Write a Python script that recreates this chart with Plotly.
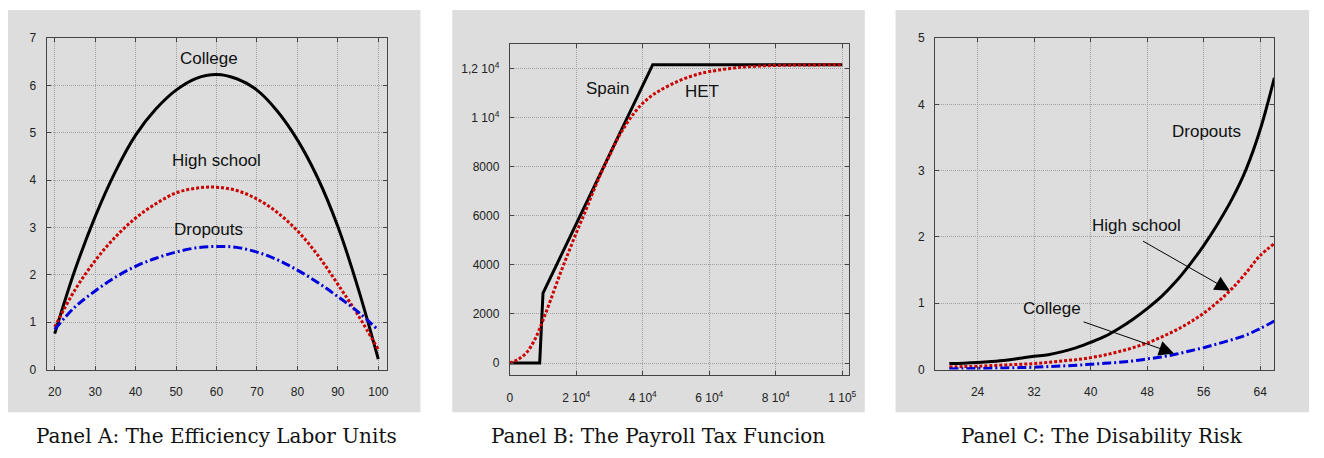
import plotly.graph_objects as go

# ---------------- Panel A: efficiency labor units by age ----------------
age_a = [20, 25, 30, 35, 40, 45, 50, 55, 60, 65, 70, 75, 80, 85, 90, 95, 100]
eff_college = [0.76, 2.1, 3.23, 4.18, 4.95, 5.5, 5.9, 6.15, 6.23, 6.14, 5.9, 5.46, 4.85, 4.05, 3.02, 1.72, 0.22]
eff_highschool = [0.9, 1.68, 2.3, 2.8, 3.2, 3.5, 3.73, 3.83, 3.85, 3.78, 3.6, 3.32, 2.93, 2.42, 1.8, 1.15, 0.42]
eff_dropouts = [0.85, 1.32, 1.66, 1.95, 2.18, 2.35, 2.48, 2.57, 2.6, 2.58, 2.48, 2.32, 2.1, 1.84, 1.54, 1.22, 0.83]

# ---------------- Panel B: payroll tax function ----------------
income_spain = [0, 9000, 10000, 43000, 100000]
tax_spain = [0, 0, 2850, 12150, 12150]
income_het = [0, 2500, 5000, 7500, 10000, 12500, 15000, 17500, 20000, 22500, 25000, 27500, 30000,
              32500, 35000, 37500, 40000, 42500, 45000, 50000, 55000, 60000, 70000, 80000, 90000, 100000]
tax_het = [0, 150, 420, 950, 1750, 2650, 3580, 4450, 5300, 6100, 6950, 7750, 8450,
           9150, 9720, 10200, 10580, 10870, 11090, 11440, 11700, 11870, 12050, 12120, 12140, 12150]

# ---------------- Panel C: disability risk by age ----------------
age_c = [20, 22, 24, 26, 28, 30, 32, 34, 36, 38, 40, 42, 44, 46, 48, 50, 52, 54, 56, 58, 60, 62, 64, 66]
dis_dropouts = [0.09, 0.095, 0.105, 0.12, 0.14, 0.17, 0.2, 0.225, 0.27, 0.33, 0.41, 0.5, 0.62, 0.76, 0.92,
                1.1, 1.32, 1.58, 1.87, 2.2, 2.57, 3.02, 3.62, 4.4]
dis_highschool = [0.04, 0.045, 0.05, 0.06, 0.07, 0.08, 0.09, 0.11, 0.13, 0.15, 0.18, 0.22, 0.27, 0.33,
                  0.4, 0.49, 0.59, 0.71, 0.85, 1.02, 1.22, 1.46, 1.72, 1.9]
dis_college = [0.01, 0.012, 0.015, 0.02, 0.025, 0.03, 0.035, 0.045, 0.055, 0.065, 0.08, 0.095, 0.11,
               0.13, 0.16, 0.19, 0.23, 0.28, 0.33, 0.39, 0.45, 0.52, 0.62, 0.73]

# tick labels
a_xticks = [20, 30, 40, 50, 60, 70, 80, 90, 100]
a_yticks = [0, 1, 2, 3, 4, 5, 6, 7]
b_xticks = [0, 20000, 40000, 60000, 80000, 100000]
b_xlabels = ["0", "2 10<sup>4</sup>", "4 10<sup>4</sup>", "6 10<sup>4</sup>", "8 10<sup>4</sup>", "1 10<sup>5</sup>"]
b_yticks = [0, 2000, 4000, 6000, 8000, 10000, 12000]
b_ylabels = ["0", "2000", "4000", "6000", "8000", "1 10<sup>4</sup>", "1,2 10<sup>4</sup>"]
c_xticks = [24, 32, 40, 48, 56, 64]
c_yticks = [0, 1, 2, 3, 4, 5]

captions = ["Panel A: The Efficiency Labor Units",
            "Panel B: The Payroll Tax Funcion",
            "Panel C: The Disability Risk"]

W, H = 1324, 458
BLACK = "#000000"
RED = "#cc0000"
BLUE = "#0000dd"
SANS = "Liberation Sans, Arial, sans-serif"

solid = dict(color=BLACK, width=3)
dotted = dict(color=RED, width=3, dash="3px,2px")
dashdot = dict(color=BLUE, width=3, dash="9px,3px,2px,3px")


def fx(px):
    return px / W


def fy(py):
    return 1 - py / H


fig = go.Figure()
fig.add_trace(go.Scatter(x=age_a, y=eff_college, mode="lines", line=dict(solid, shape="spline"), xaxis="x", yaxis="y"))
fig.add_trace(go.Scatter(x=age_a, y=eff_highschool, mode="lines", line=dict(dotted, shape="spline"), xaxis="x", yaxis="y"))
fig.add_trace(go.Scatter(x=age_a, y=eff_dropouts, mode="lines", line=dict(dashdot, shape="spline"), xaxis="x", yaxis="y"))

fig.add_trace(go.Scatter(x=income_spain, y=tax_spain, mode="lines", line=solid, xaxis="x2", yaxis="y2"))
fig.add_trace(go.Scatter(x=income_het, y=tax_het, mode="lines", line=dict(dotted, shape="spline"), xaxis="x2", yaxis="y2"))

fig.add_trace(go.Scatter(x=age_c, y=dis_dropouts, mode="lines", line=dict(solid, shape="spline"), xaxis="x3", yaxis="y3"))
fig.add_trace(go.Scatter(x=age_c, y=dis_highschool, mode="lines", line=dict(dotted, shape="spline"), xaxis="x3", yaxis="y3"))
fig.add_trace(go.Scatter(x=age_c, y=dis_college, mode="lines", line=dict(dashdot, shape="spline"), xaxis="x3", yaxis="y3"))

axis_style = dict(
    showline=True, linecolor="#444", linewidth=1, mirror="ticks",
    ticks="inside", ticklen=4, tickcolor="#444", tickwidth=1,
    showgrid=True, gridcolor="#a0a0a0", griddash="1px,1px", gridwidth=1,
    zeroline=False, tickfont=dict(family=SANS, size=12, color="#222"),
    fixedrange=True,
)
xstyle = dict(axis_style, ticklabelstandoff=11)
ystyle = dict(axis_style, ticklabelstandoff=7)

layout = dict(
    width=W, height=H, margin=dict(l=0, r=0, t=0, b=0),
    paper_bgcolor="white", plot_bgcolor="white", showlegend=False,
    xaxis=dict(xstyle, domain=[fx(44), fx(387)], range=[18, 102.1], tickvals=a_xticks, anchor="y"),
    yaxis=dict(ystyle, domain=[fy(374), fy(32)], range=[0, 7], tickvals=a_yticks, anchor="x"),
    xaxis2=dict(xstyle, domain=[fx(511), fx(853)], range=[0, 102000], tickvals=b_xticks,
                ticktext=b_xlabels, anchor="y2"),
    yaxis2=dict(ystyle, domain=[fy(380), fy(38)], range=[-500, 13000], tickvals=b_yticks,
                ticktext=b_ylabels, anchor="x2"),
    xaxis3=dict(xstyle, domain=[fx(940), fx(1282)], range=[18, 66], tickvals=c_xticks, anchor="y3"),
    yaxis3=dict(ystyle, domain=[fy(374), fy(32)], range=[0, 5], tickvals=c_yticks, anchor="x3"),
)
fig.update_layout(**layout)

# grey panel backgrounds
for x0, x1 in [(5, 421), (453, 869), (900, 1317)]:
    fig.add_shape(type="rect", xref="paper", yref="paper", x0=fx(x0), x1=fx(x1),
                  y0=fy(418), y1=fy(3), fillcolor="#dcdddc", line=dict(width=0), layer="below")

label_font = dict(family=SANS, size=17, color="#111")


def label(text, x, y, xref, yref):
    fig.add_annotation(text=text, x=x, y=y, xref=xref, yref=yref, showarrow=False, font=label_font,
                       xanchor="center", yanchor="middle")


label("College", 58.1, 6.56, "x", "y")
label("High school", 59.9, 4.41, "x", "y")
label("Dropouts", 57.9, 2.95, "x", "y")
label("Spain", 29450, 11170, "x2", "y2")
label("HET", 57760, 11050, "x2", "y2")
label("Dropouts", 56.4, 3.585, "x3", "y3")
label("High school", 46.5, 2.166, "x3", "y3")
label("College", 34.6, 0.922, "x3", "y3")

# pointer arrows in Panel C
for (tx, ty, hx, hy) in [(47.2, 1.95, 59.7, 1.19), (38.8, 0.727, 51.8, 0.244)]:
    fig.add_annotation(x=hx, y=hy, ax=tx, ay=ty, xref="x3", yref="y3", axref="x3", ayref="y3",
                       text="", showarrow=True, arrowhead=2, arrowsize=3, arrowwidth=1,
                       arrowcolor=BLACK)

# captions beneath the panels
for cx, cap in zip([215, 660, 1108], captions):
    fig.add_annotation(text=cap, x=fx(cx), y=fy(443), xref="paper", yref="paper",
                       xanchor="center", yanchor="middle", showarrow=False,
                       font=dict(family="DejaVu Serif, Liberation Serif, serif", size=20, color="#111"))

fig.write_html("out.html")
